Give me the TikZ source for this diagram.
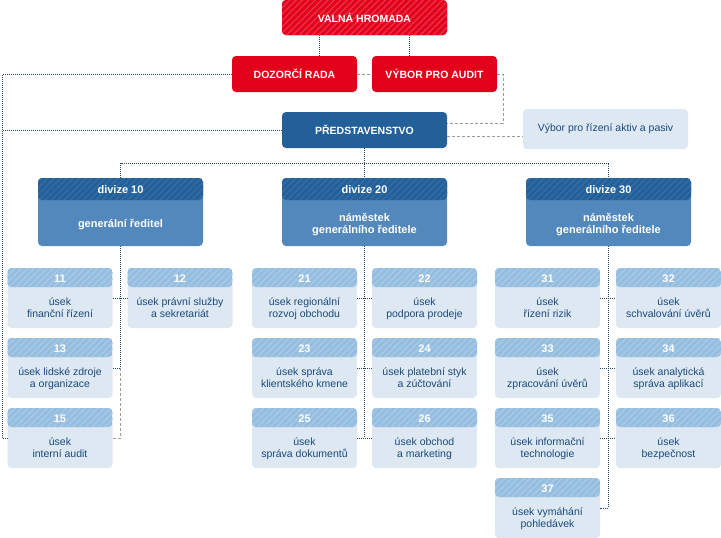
\documentclass[tikz,border=0pt]{standalone}
\usepackage{fontspec}
\setmainfont{Liberation Sans}
\usetikzlibrary{patterns.meta}

\definecolor{cervena}{HTML}{E2001A}
\definecolor{cervenapruh}{HTML}{EA3148}
\definecolor{tmavamodra}{HTML}{23609A}
\definecolor{tmavapruh}{HTML}{326DA6}
\definecolor{stredni}{HTML}{5288BC}
\definecolor{svetlahl}{HTML}{94BDDF}
\definecolor{svetlapruh}{HTML}{A8CAE7}
\definecolor{svetla}{HTML}{DDE8F3}
\definecolor{textmodra}{HTML}{1B4A7A}
\definecolor{tecka}{HTML}{2A4864}
\definecolor{carka}{HTML}{9A9A9A}

\newcommand{\cis}[1]{\rule{0pt}{14pt}{\bfseries\fontsize{11}{12}\selectfont\color{white}#1}}
\newcommand{\hdr}[1]{\rule{0pt}{15pt}#1}

\begin{document}
\begin{tikzpicture}[
    x=1pt, y=-1pt,
    font=\fontsize{10.5}{12}\selectfont,
    ramec/.style={rounded corners=4pt, inner sep=0pt, align=center},
    hlava/.style n args={3}{path picture={
        \path[fill=#2, postaction={pattern={Lines[angle=45,distance=4.5pt,line width=1.4pt]}, pattern color=#3}]
          (path picture bounding box.north west) rectangle ([yshift=-#1]path picture bounding box.north east);}},
    orgcap/.style={ramec, fill=cervena, text=white, font=\bfseries\fontsize{10.5}{12}\selectfont,
                   minimum width=125pt, minimum height=36pt},
    divize/.style={ramec, fill=stredni, text=white, font=\bfseries\fontsize{11}{12}\selectfont,
                   minimum width=165pt, minimum height=68pt, hlava={22pt}{tmavamodra}{tmavapruh},
                   execute at end node={\rule[-13pt]{0pt}{13pt}}},
    usek/.style={ramec, fill=svetla, text=textmodra, minimum width=105pt, minimum height=60pt,
                 hlava={19pt}{svetlahl}{svetlapruh},
                 execute at end node={\rule[-11pt]{0pt}{11pt}}},
    tecky/.style={draw=tecka, line width=1pt, dash pattern=on 1pt off 1pt},
    carky/.style={draw=carka, line width=1pt, dash pattern=on 3pt off 2pt},
  ]
  \useasboundingbox (0,0) rectangle (721,538);

  % ---- vedeni ---------------------------------------------------------------
  \node[orgcap, minimum width=165pt, minimum height=35pt, hlava={35pt}{cervena}{cervenapruh}] (vh) at (364.5,17.5) {VALNÁ HROMADA};
  \node[orgcap] (dr) at (294.5,74) {DOZORČÍ RADA};
  \node[orgcap] (vo) at (434.5,74) {VÝBOR PRO AUDIT};
  \node[orgcap, fill=tmavamodra, minimum width=165pt] (pr) at (364.5,130) {PŘEDSTAVENSTVO};
  \node[ramec, fill=svetla, text=textmodra, minimum width=165pt, minimum height=40pt] (ap) at (605.5,129) {Výbor pro řízení aktiv a pasiv};

  % ---- divize ---------------------------------------------------------------
  \node[divize] (d10) at (120.5,212) {\hdr{divize 10}\\[22pt]generální ředitel\rule[-19pt]{0pt}{19pt}};
  \node[divize] (d20) at (364.5,212) {\hdr{divize 20}\\[16pt]náměstek\\generálního ředitele};
  \node[divize] (d30) at (608.5,212) {\hdr{divize 30}\\[16pt]náměstek\\generálního ředitele};

  % ---- useky ----------------------------------------------------------------
  \node[usek] (u11) at (60,298)  {\cis{11}\\[11pt]úsek\\finanční řízení};
  \node[usek] (u12) at (180,298) {\cis{12}\\[11pt]úsek právní služby\\a sekretariát};
  \node[usek] (u13) at (60,368)  {\cis{13}\\[11pt]úsek lidské zdroje\\a organizace};
  \node[usek] (u15) at (60,438)  {\cis{15}\\[11pt]úsek\\interní audit};

  \node[usek] (u21) at (304.5,298) {\cis{21}\\[11pt]úsek regionální\\rozvoj obchodu};
  \node[usek] (u22) at (424.5,298) {\cis{22}\\[11pt]úsek\\podpora prodeje};
  \node[usek] (u23) at (304.5,368) {\cis{23}\\[11pt]úsek správa\\klientského kmene};
  \node[usek] (u24) at (424.5,368) {\cis{24}\\[11pt]úsek platební styk\\a zúčtování};
  \node[usek] (u25) at (304.5,438) {\cis{25}\\[11pt]úsek\\správa dokumentů};
  \node[usek] (u26) at (424.5,438) {\cis{26}\\[11pt]úsek obchod\\a marketing};

  \node[usek] (u31) at (547.5,298) {\cis{31}\\[11pt]úsek\\řízení rizik};
  \node[usek] (u32) at (668.5,298) {\cis{32}\\[11pt]úsek\\schvalování úvěrů};
  \node[usek] (u33) at (547.5,368) {\cis{33}\\[11pt]úsek\\zpracování úvěrů};
  \node[usek] (u34) at (668.5,368) {\cis{34}\\[11pt]úsek analytická\\správa aplikací};
  \node[usek] (u35) at (547.5,438) {\cis{35}\\[11pt]úsek informační\\technologie};
  \node[usek] (u36) at (668.5,438) {\cis{36}\\[11pt]úsek\\bezpečnost};
  \node[usek] (u37) at (547.5,508) {\cis{37}\\[11pt]úsek vymáhání\\pohledávek};

  % ---- spojnice -------------------------------------------------------------
  \coordinate (roh) at (2.5,74);       % levy okraj
  \coordinate (sbernice) at (0,163);   % vodorovna pod predstavenstvem

  \draw[tecky] ([xshift=-45.5pt]vh.south) -- ([xshift=-45.5pt]vh.south |- dr.north);
  \draw[tecky] ([xshift=44.5pt]vh.south) -- ([xshift=44.5pt]vh.south |- vo.north);
  \draw[carky] (dr.east) -- (vo.west);
  \draw[carky] (vo.east) -- ++(6,0) |- ([yshift=7pt]pr.east);
  \draw[carky] ([yshift=-6pt]pr.east) -- ([yshift=-6pt]pr.east -| ap.west);
  \draw[tecky] (dr.west) -- (roh) |- (u15.west);
  \draw[tecky] (pr.west) -- (pr.west -| roh);
  \draw[tecky] (pr.south) -- (d20.north);
  \draw[tecky] (d10.north) -- (d10.north |- sbernice) -- (d30.north |- sbernice) -- (d30.north);

  \draw[tecky] (d10.south) -- (d10.south |- u13.east) -- (u13.east);
  \draw[tecky] (u11.east) -- (u12.west);
  \draw[carky] (d10.south |- u13.east) |- (u15.east);

  \draw[tecky] (d20.south) -- (d20.south |- u25.east);
  \draw[tecky] (u21.east) -- (u22.west);
  \draw[tecky] (u23.east) -- (u24.west);
  \draw[tecky] (u25.east) -- (u26.west);

  \draw[tecky] (d30.south) |- (u37.east);
  \draw[tecky] (u31.east) -- (u32.west);
  \draw[tecky] (u33.east) -- (u34.west);
  \draw[tecky] (u35.east) -- (u36.west);

\end{tikzpicture}
\end{document}
